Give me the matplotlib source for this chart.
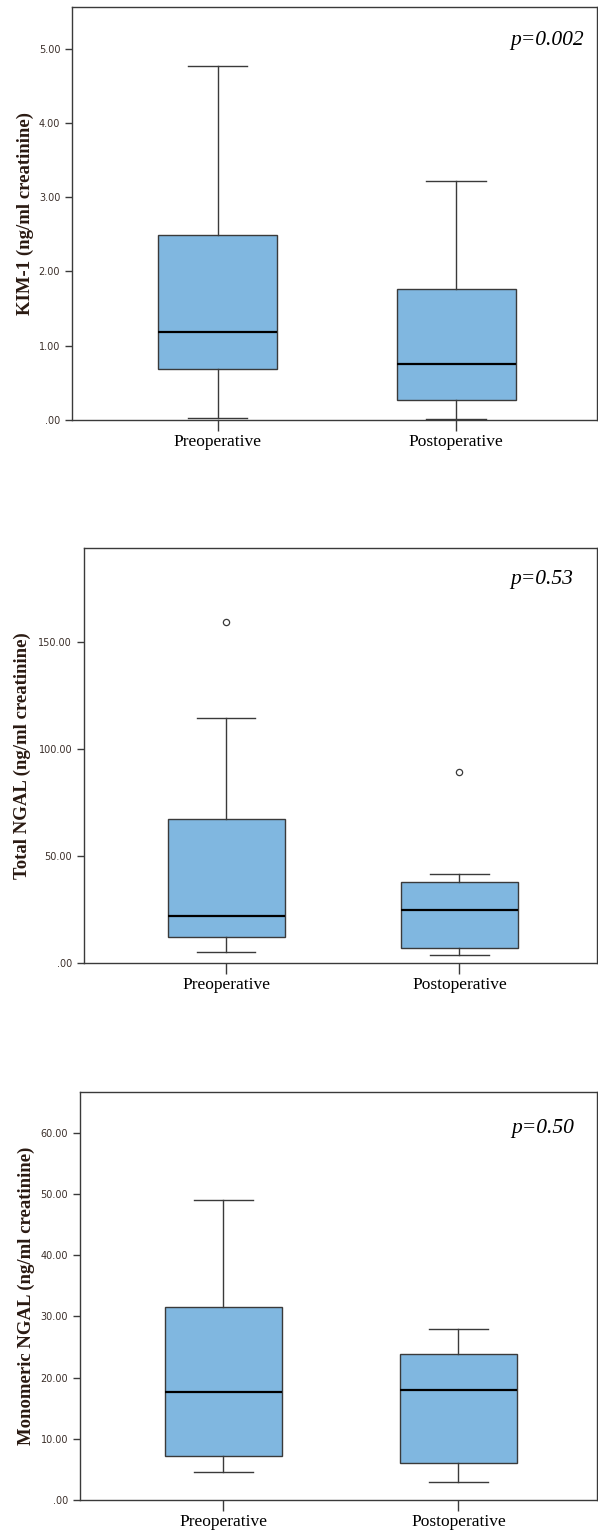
import matplotlib
matplotlib.use('Agg')
import matplotlib.pyplot as plt
from matplotlib.ticker import FuncFormatter

groups = ['Preoperative', 'Postoperative']

# five-number summaries: low whisker, Q1, median, Q3, high whisker
kim1_pre = [0.03, 0.69, 1.18, 2.49, 4.76]
kim1_post = [0.02, 0.265, 0.76, 1.76, 3.22]
kim1_fliers = [[], []]

tngal_pre = [5.1, 12.1, 21.8, 67.3, 114.3]
tngal_post = [3.7, 7.0, 24.9, 37.9, 41.6]
tngal_fliers = [[159.3], [89.1]]

mngal_pre = [4.6, 7.2, 17.6, 31.5, 49.1]
mngal_post = [3.0, 6.0, 18.0, 23.9, 28.0]
mngal_fliers = [[], []]

kim1_ticks = [0, 1, 2, 3, 4, 5]
tngal_ticks = [0, 50, 100, 150]
mngal_ticks = [0, 10, 20, 30, 40, 50, 60]

W, H = 598, 1534
BOX_COLOR = '#80b7e0'
EDGE = '#3a3a3a'


def spss_fmt(v, pos):
    s = '%.2f' % v
    if s.startswith('0.'):
        s = s[1:]
    return s


def make_stats(summary, fliers):
    lo, q1, med, q3, hi = summary
    return {'whislo': lo, 'q1': q1, 'med': med, 'q3': q3, 'whishi': hi, 'fliers': fliers}


def panel(fig, box_px, pre, post, fliers, ymax, ticks, ylabel, label_x, ptext, ptext_xy):
    left, top, right, bottom = box_px
    ax = fig.add_axes([left / W, 1 - bottom / H, (right - left) / W, (bottom - top) / H])
    stats = [make_stats(pre, fliers[0]), make_stats(post, fliers[1])]
    ax.bxp(stats, positions=[1, 2], widths=0.5, patch_artist=True,
           boxprops=dict(facecolor=BOX_COLOR, edgecolor=EDGE, linewidth=1.0),
           medianprops=dict(color='black', linewidth=1.6),
           whiskerprops=dict(color=EDGE, linewidth=1.0),
           capprops=dict(color=EDGE, linewidth=1.0),
           capwidths=0.25,
           flierprops=dict(marker='o', markersize=4.5, markerfacecolor='white',
                           markeredgecolor=EDGE, markeredgewidth=0.9))
    ax.set_xlim(0.39, 2.59)
    ax.set_ylim(0, ymax)
    ax.set_yticks(ticks)
    ax.yaxis.set_major_formatter(FuncFormatter(spss_fmt))
    ax.set_xticks([1, 2])
    ax.set_xticklabels(groups, family='Liberation Serif', fontsize=12.5)
    ax.tick_params(axis='y', labelsize=7, colors=EDGE, labelcolor='#3b2f2a', length=5, width=1)
    ax.tick_params(axis='x', length=8, width=1, colors=EDGE, labelcolor='black', pad=2)
    for sp in ax.spines.values():
        sp.set_color(EDGE)
        sp.set_linewidth(1.0)
    ax.set_ylabel(ylabel, family='Liberation Serif', fontweight='bold', fontsize=13.5,
                  color='#2a1a12')
    # label_x is the label centre; the anchor sits on its right side
    ax.yaxis.set_label_coords((label_x + 9 - left) / (right - left), 0.5)
    fig.text(ptext_xy[0] / W, 1 - ptext_xy[1] / H, ptext, family='Liberation Serif',
             style='italic', fontsize=15.5, ha='right', va='center')
    return ax


fig = plt.figure(figsize=(W / 100, H / 100), dpi=100)

panel(fig, (72, 7, 597, 420), kim1_pre, kim1_post, kim1_fliers, 5.56, kim1_ticks,
      'KIM-1 (ng/ml creatinine)', 25, 'p=0.002', (584, 40))
panel(fig, (84, 548, 597, 963), tngal_pre, tngal_post, tngal_fliers, 194, tngal_ticks,
      'Total NGAL (ng/ml creatinine)', 22, 'p=0.53', (573, 579))
panel(fig, (80, 1092, 597, 1500), mngal_pre, mngal_post, mngal_fliers, 66.7, mngal_ticks,
      'Monomeric NGAL (ng/ml creatinine)', 26, 'p=0.50', (574, 1129))

fig.savefig('out.png', dpi=100)
